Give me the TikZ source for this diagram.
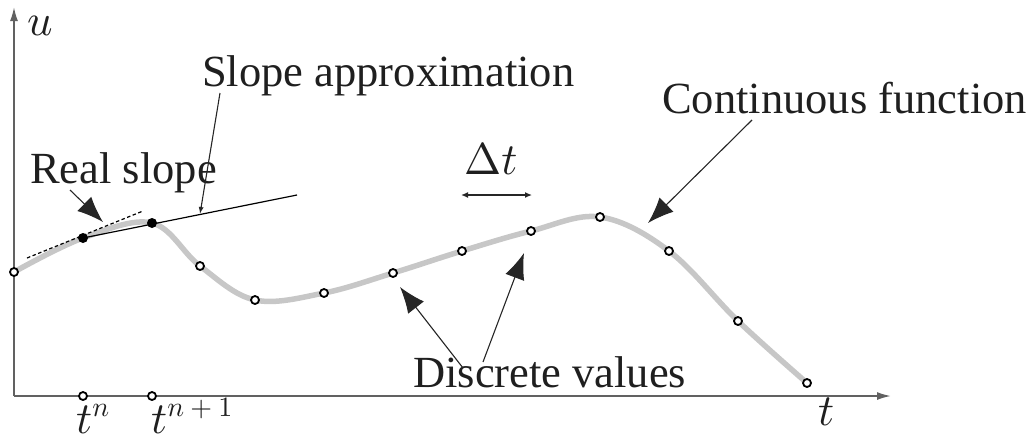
\documentclass[tikz,border=0pt]{standalone}
\usepackage{fontspec}
\setmainfont{Liberation Serif}
\usetikzlibrary{arrows.meta}
\DeclareFontShape{OML}{cmm}{m}{it}{<->cmmi10}{}
\DeclareFontShape{OT1}{cmr}{m}{n}{<->cmr10}{}
\DeclareFontShape{OMS}{cmsy}{m}{n}{<->cmsy10}{}
\newcommand{\supsz}[1]{\hbox{\fontsize{28}{30}\selectfont$#1$}}
\begin{document}
\begin{tikzpicture}[x=1pt,y=-1pt,
  lab/.style={font=\fontsize{44.5}{50}\selectfont, inner sep=0pt, anchor=base west, text=black!88},
  dot/.style={circle, draw=black, fill=white, line width=1.8pt, minimum size=8pt, inner sep=0pt},
  fdot/.style={circle, fill=black, minimum size=10pt, inner sep=0pt},
  axis/.style={line width=1.8pt, draw=black!62, -{Latex[length=14pt,width=8pt]}},
  bigarrow/.style={line width=1.1pt, draw=black!85, -{Latex[length=26pt,width=20pt]}},
  smallarrow/.style={line width=1.1pt, draw=black!85, -{Latex[length=7pt,width=5pt]}},
  curve/.style={line width=5.5pt, draw=black!22, line cap=round, line join=round}]
\useasboundingbox (0,0) rectangle (1032,440);
% axes
\coordinate (O) at (14,396);
\coordinate (ytop) at (14,7);
\coordinate (xend) at (891,396);
\draw[axis] (O) -- (ytop);
\draw[axis] (O) -- (xend);
% continuous function
\draw[curve] plot[smooth, tension=0.6] coordinates {(14,272) (83,238) (152,223) (200,266) (255,300) (324,293) (393,273) (462,251) (531,231) (600,217) (669,251) (738,321) (807,383)};
% slope lines
\coordinate (sEnd) at (297,195);
\coordinate (dA) at (27,258);
\coordinate (dB) at (143,211);
\draw[line width=1.2pt] (83,238) -- (sEnd);
\draw[line width=1.2pt, dash pattern=on 3.5pt off 2.5pt] (dA) -- (dB);
% discrete points
\node[dot] (p0) at (14,272) {};
\node[fdot] (p1) at (83,238) {};
\node[fdot] (p2) at (152,223) {};
\node[dot] (p3) at (200,266) {};
\node[dot] (p4) at (255,300) {};
\node[dot] (p5) at (324,293) {};
\node[dot] (p6) at (393,273) {};
\node[dot] (p7) at (462,251) {};
\node[dot] (p8) at (531,231) {};
\node[dot] (p9) at (600,217) {};
\node[dot] (p10) at (669,251) {};
\node[dot] (p11) at (738,321) {};
\node[dot] (p12) at (807,383) {};
\node[dot] (tk1) at (83,396) {};
\node[dot] (tk2) at (152,396) {};
% labels
\node[lab] (slab) at (202,86) {Slope approximation};
\node[lab] (rlab) at (30,183) {Real slope};
\node[lab] (clab) at (662,113) {Continuous function};
\node[lab] (dlab) at (413,387) {Discrete values};
\node[lab] (dtlab) at (464,174) {$\Delta t$};
\node[lab] (ulab) at (27,35) {$u$};
\node[lab] (tlab) at (818,425) {$t$};
\node[lab] (tn) at (76,433) {$t^{\supsz{n}}$};
\node[lab] (tn1) at (151,433) {$t^{\supsz{n+1}}$};
% arrows
\coordinate (a1s) at (220,93);  \coordinate (a1e) at (200,214);
\coordinate (a2s) at (70,190);  \coordinate (a2e) at (103,222);
\coordinate (a3s) at (752,120); \coordinate (a3e) at (648,223);
\coordinate (a4s) at (463,368); \coordinate (a4e) at (400,287);
\coordinate (a5s) at (483,362); \coordinate (a5e) at (524,253);
\coordinate (dtl) at (461,195); \coordinate (dtr) at (532,195);
\draw[smallarrow] (a1s) -- (a1e);
\draw[bigarrow] (a2s) -- (a2e);
\draw[bigarrow] (a3s) -- (a3e);
\draw[bigarrow] (a4s) -- (a4e);
\draw[bigarrow] (a5s) -- (a5e);
\draw[line width=1.3pt, draw=black!85, {Latex[length=7pt,width=6pt]}-{Latex[length=7pt,width=6pt]}] (dtl) -- (dtr);
\end{tikzpicture}
\end{document}
